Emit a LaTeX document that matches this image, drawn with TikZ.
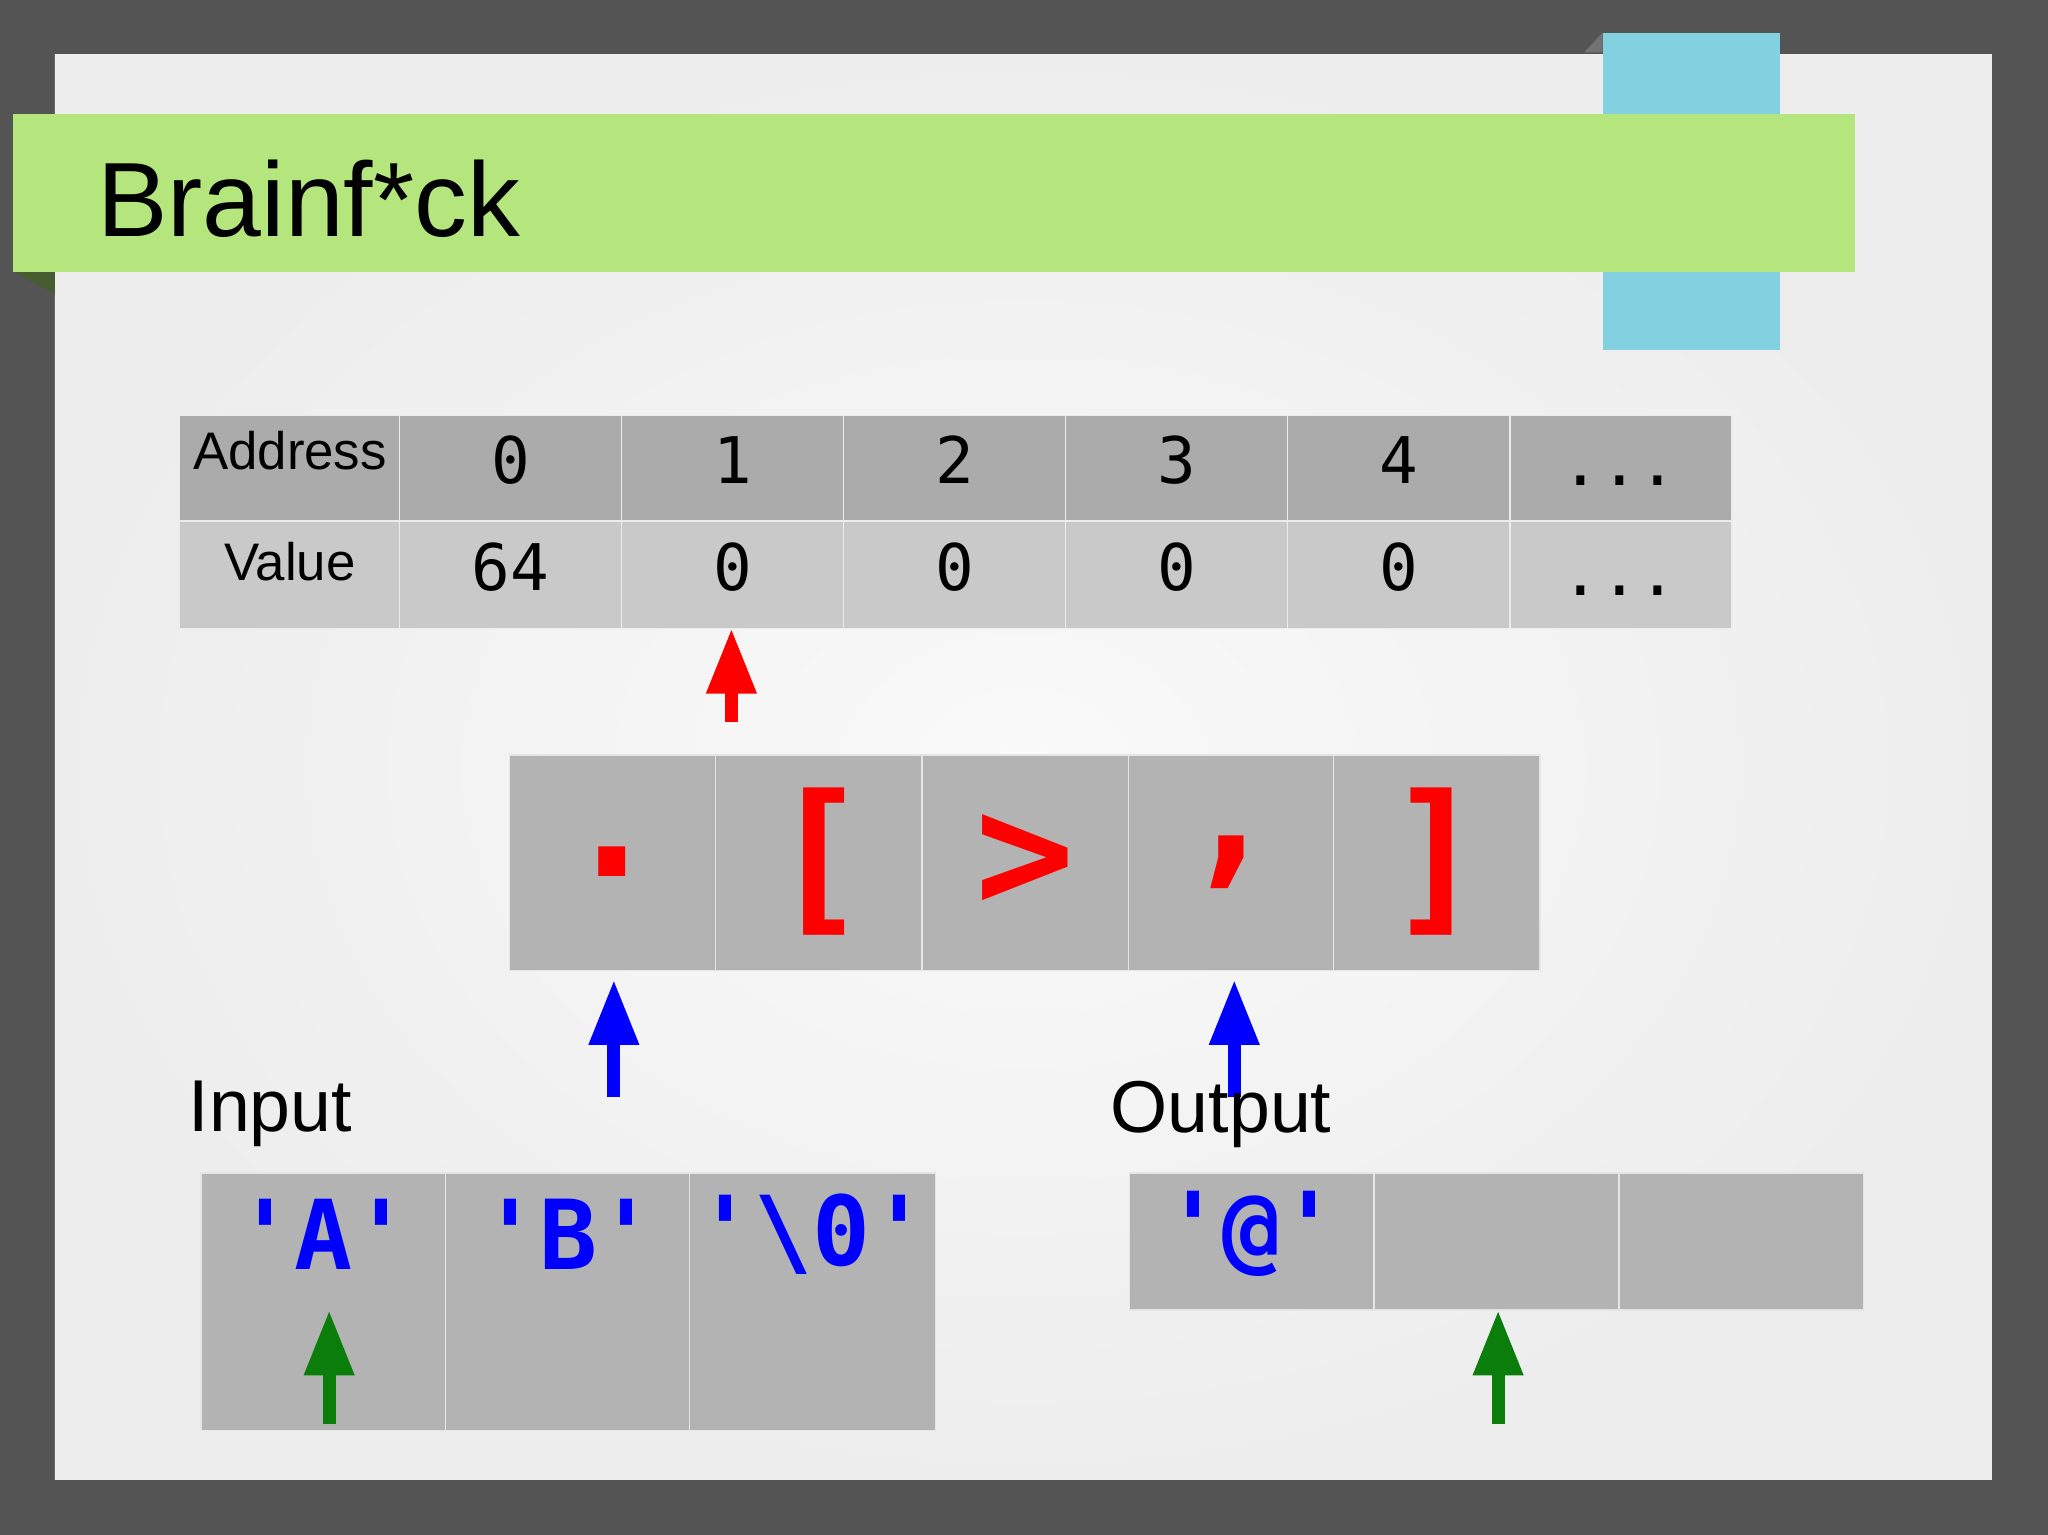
\documentclass[tikz,border=0pt]{standalone}
\usepackage{fontspec}
\setmainfont{Liberation Sans}
\newfontfamily\monof{DejaVu Sans Mono}
\usetikzlibrary{arrows.meta}
\definecolor{hdr}{HTML}{ABABAB}
\definecolor{rowb}{HTML}{C9C9C9}
\definecolor{cell}{HTML}{B3B3B3}
\definecolor{ban}{HTML}{B5E67E}
\definecolor{sky}{HTML}{82D0E0}
\definecolor{dgreen}{HTML}{0A7D0A}
\tikzset{
 hcell/.style={fill=hdr,draw=white!85!gray,line width=0.01cm},
 vcell/.style={fill=rowb,draw=white!85!gray,line width=0.01cm},
 ccell/.style={fill=cell,draw=white!80!gray,line width=0.01cm},
 ptr/.style={line width=0.1cm,-{Triangle[width=0.36cm,length=0.5cm]}},
 lab/.style={font=\fontsize{11.5pt}{13pt}\selectfont},
 num/.style={font=\monof\fontsize{14pt}{16pt}\selectfont},
 code/.style={font=\monof\bfseries\fontsize{36pt}{40pt}\selectfont,text=red},
 chr/.style={font=\monof\bfseries\fontsize{21pt}{24pt}\selectfont,text=blue},
}
\begin{document}
\begin{tikzpicture}[x=0.01cm,y=-0.01cm]
\useasboundingbox (0,0) rectangle (1568,1175);
\fill[black!67] (0,0) rectangle (1568,1175);
\shade[inner color=white!96!gray,outer color=white!86!gray] (42,42) rectangle (1525,1133);
\fill[black!55] (1213,40) -- (1227,25) -- (1227,40) -- cycle;
\fill[sky] (1227,25) rectangle (1363,268);
\fill[ban!40!black] (10,208) -- (42,225) -- (42,208) -- cycle;
\fill[ban] (10,87) rectangle (1420,208);
\node[anchor=west,font=\fontsize{23pt}{26pt}\selectfont] (title) at (62,152) {Brainf*ck};
% memory table
\foreach \x/\a/\v [count=\i] in {137/0/64,306/1/0,476/2/0,646/3/0,816/4/0,986/5/0,1156/6/0}{
  \path[hcell] (\x,318) rectangle ++(170,81);
  \path[vcell] (\x,399) rectangle ++(170,82);
}
\node[lab] (addr) at (222,345) {Address};
\node[lab] (val) at (222,430) {Value};
\foreach \x/\a/\v in {391/0/64,561/1/0,731/2/0,901/3/0,1071/4/0}{
  \node[num] (a\a) at (\x,352) {\a};
  \node[num] (v\a) at (\x,434) {\v};
}
\node[num] (adots) at (1240,368) {...};
\node[num] (vdots) at (1240,452) {...};
\coordinate (m1) at (560,481);
\coordinate (m1s) at (560,553);
\draw[ptr,red] (m1s) -- (m1);
% code
\foreach \x/\c [count=\i] in {390/{.},548/{[},706/{>},864/{,},1021/{]}}{
  \path[ccell] (\x,578) rectangle ++(158,165);
  \node[code] (c\i) at (\x+79,660) {\c};
}
\coordinate (p1) at (470,750); \coordinate (p1s) at (470,840);
\coordinate (p2) at (945,750); \coordinate (p2s) at (945,840);
\draw[ptr,blue] (p1s) -- (p1);
\draw[ptr,blue] (p2s) -- (p2);
% input / output
\node[anchor=west,font=\fontsize{16pt}{18pt}\selectfont] (inl) at (132,853) {Input};
\node[anchor=west,font=\fontsize{16pt}{18pt}\selectfont] (outl) at (838,853) {Output};
\foreach \x in {154,341,528}{\path[ccell] (\x,898) rectangle ++(188,197);}
\foreach \x in {865,1052,1240}{\path[ccell] (\x,898) rectangle ++(187,105);}
\node[chr] (iA) at (248,945) {'A'};
\node[chr] (iB) at (435,945) {'B'};
\node[chr] (i0) at (622,945) {'\textbackslash0'};
\node[chr] (o1) at (958,945) {'@'};
\coordinate (g1) at (252,1003); \coordinate (g1s) at (252,1090);
\coordinate (g2) at (1147,1003); \coordinate (g2s) at (1147,1090);
\draw[ptr,dgreen] (g1s) -- (g1);
\draw[ptr,dgreen] (g2s) -- (g2);
\end{tikzpicture}
\end{document}
